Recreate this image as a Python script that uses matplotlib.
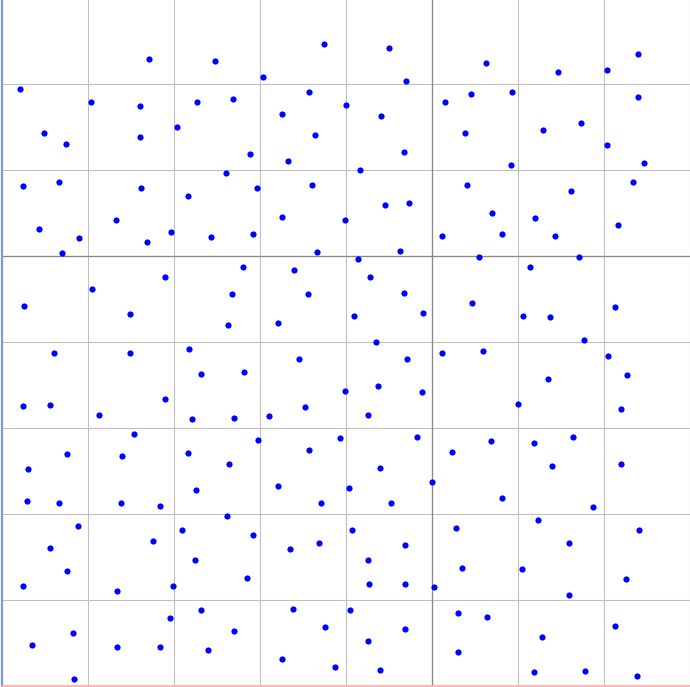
import numpy as np
import matplotlib
matplotlib.use("Agg")
import matplotlib.pyplot as plt

# point coordinates (grid units, origin where the darker axis lines cross)
x_vals = [
    -3.29, -2.52, -4.79, -3.97, -3.39, -2.73, -2.97, -4.51, -4.26, -3.39,
    -2.40, -4.76, -4.34, -3.38, -2.84, -3.67, -4.57,
    -1.26, -0.50, -1.96, -0.30, -1.43, -2.31, -1.00, 0.15, -1.74, -0.59,
    -1.36, -2.12, -0.33, -1.68, -0.84, -2.04, -1.40, -0.55, -0.27, -1.74, -1.01,
    0.63, 1.47, 2.03, 2.40, 0.45, 0.93, 2.39, 0.38, 1.29, 1.73,
    2.04, 0.92, 2.47, 0.41, 1.62, 2.34, 0.70, 1.20, 2.16,
    -4.11, -4.30, -3.31, -3.03, -2.57, -4.74, -3.95, -3.10, -3.51, -2.37,
    -4.39, -3.51, -2.82, -2.69, -4.76, -4.44, -3.11, -3.87, -2.79, -3.46,
    -4.25, -3.60, -2.84,
    -2.08, -1.34, -0.37, 0.12, -2.20, -1.60, -0.86, -0.72, -2.33, -1.44,
    -0.32, -1.79, -0.91, -0.10, -0.65, -1.55, -0.29, 0.12, -2.19, -1.01,
    -0.63, -0.12, -2.30, -1.89, -1.48, -0.74, -2.02, -1.07, -0.18, -1.43, 0.23,
    0.81, 1.43, 0.55, 1.71, 1.14, 0.47, 1.06, 1.37, 2.13, 1.77,
    0.59, 2.05, 2.27, 1.35, 1.00, 2.20, 0.69, 1.19, 1.64,
    -4.70, -4.71, -4.34, -3.62, -3.16, -2.74, -2.36, -4.12, -4.44, -4.24,
    -4.76, -3.24, -2.91, -2.76, -2.38, -3.66, -3.01, -4.65, -4.18, -4.16,
    -3.05, -2.69, -3.66, -3.16, -2.60,
    -1.79, -1.29, -0.97, -0.60, -0.48, 0.00, -2.08, -1.65, -1.31, -0.93,
    -0.31, -0.74, 0.28, -2.15, -0.73, -0.31, 0.02, -1.62, -0.95, 0.30,
    -2.30, -1.24, -0.31, -0.74, -1.74, -1.13, -0.61, 0.30,
    1.39, 2.20, 0.81, 1.87, 1.23, 2.41, 1.59, 0.35, 1.05, 2.26,
    1.59, 0.64, 1.28, 2.13, 1.19, 1.78, 2.38,
]
y_vals = [
    2.29, 2.27, 1.95, 1.79, 1.75, 1.79, 1.50, 1.43, 1.31, 1.39,
    0.97, 0.82, 0.86, 0.79, 0.70, 0.42, 0.32,
    2.47, 2.42, 2.08, 2.04, 1.91, 1.83, 1.76, 1.79, 1.65, 1.63,
    1.41, 1.19, 1.21, 1.11, 1.00, 0.79, 0.83, 0.60, 0.62, 0.46, 0.42,
    2.25, 2.14, 2.17, 2.35, 1.89, 1.91, 1.85, 1.43, 1.47, 1.55,
    1.29, 1.06, 1.08, 0.83, 0.76, 0.86, 0.50, 0.45, 0.36,
    0.21, 0.04, 0.17, 0.28, 0.22, -0.58, -0.38, -0.24, -0.67, -0.80,
    -1.12, -1.12, -1.08, -1.37, -1.74, -1.73, -1.66, -1.85, -1.89, -2.07,
    -2.30, -2.32, -2.29,
    0.26, 0.05, 0.06, 0.24, -0.12, -0.16, -0.03, -0.24, -0.44, -0.44,
    -0.43, -0.78, -0.69, -0.66, -1.00, -1.19, -1.19, -1.12, -1.35, -1.57,
    -1.51, -1.58, -1.88, -1.86, -1.75, -1.85, -2.14, -2.11, -2.10, -2.25, -2.28,
    0.26, 0.24, -0.01, -0.01, -0.12, -0.54, -0.69, -0.71, -0.59, -0.97,
    -1.10, -1.16, -1.38, -1.43, -1.72, -1.78, -2.15, -2.17, -2.10,
    -2.47, -2.85, -2.87, -2.87, -2.90, -2.72, -2.42, -3.14, -3.39, -3.66,
    -3.83, -3.31, -3.18, -3.53, -3.02, -3.89, -3.83, -4.52, -4.38, -4.92,
    -4.21, -4.11, -4.54, -4.54, -4.58,
    -2.67, -2.87, -2.69, -2.46, -2.87, -2.62, -3.24, -3.40, -3.33, -3.18,
    -3.36, -3.53, -3.16, -3.74, -3.81, -3.81, -3.85, -4.10, -4.11, -4.15,
    -4.36, -4.31, -4.33, -4.47, -4.68, -4.78, -4.81, -4.60,
    -2.44, -2.42, -2.81, -2.92, -3.07, -3.18, -3.33, -3.62, -3.64, -3.75,
    -3.94, -4.19, -4.43, -4.30, -4.83, -4.82, -4.88,
]

x_min, x_max = -5, 3
y_min, y_max = -5, 3

fig = plt.figure(figsize=(6.9, 6.87), dpi=100)
ax = fig.add_axes([2 / 690, 0.7 / 687, 688 / 690, 688 / 687])

ax.set_xlim(x_min, x_max)
ax.set_ylim(y_min, y_max)
ax.set_xticks(np.arange(x_min, x_max + 1))
ax.set_yticks(np.arange(y_min, y_max + 1))
ax.tick_params(length=0, labelbottom=False, labelleft=False)
ax.grid(True, color='#c0c0c0', linewidth=0.8)
ax.set_axisbelow(True)

# zero lines
ax.axhline(0, color='#888888', linewidth=0.9, zorder=1)
ax.axvline(0, color='#888888', linewidth=0.9, zorder=1)

ax.scatter(x_vals, y_vals, s=20, color='#0000ff', linewidths=0, zorder=3)

for side in ['top', 'right']:
    ax.spines[side].set_visible(False)
ax.spines['left'].set_color('#7b9be0')
ax.spines['left'].set_linewidth(1.6)
ax.spines['bottom'].set_color('#ffaaaa')
ax.spines['bottom'].set_linewidth(1.2)

fig.savefig('out.png', dpi=100)
